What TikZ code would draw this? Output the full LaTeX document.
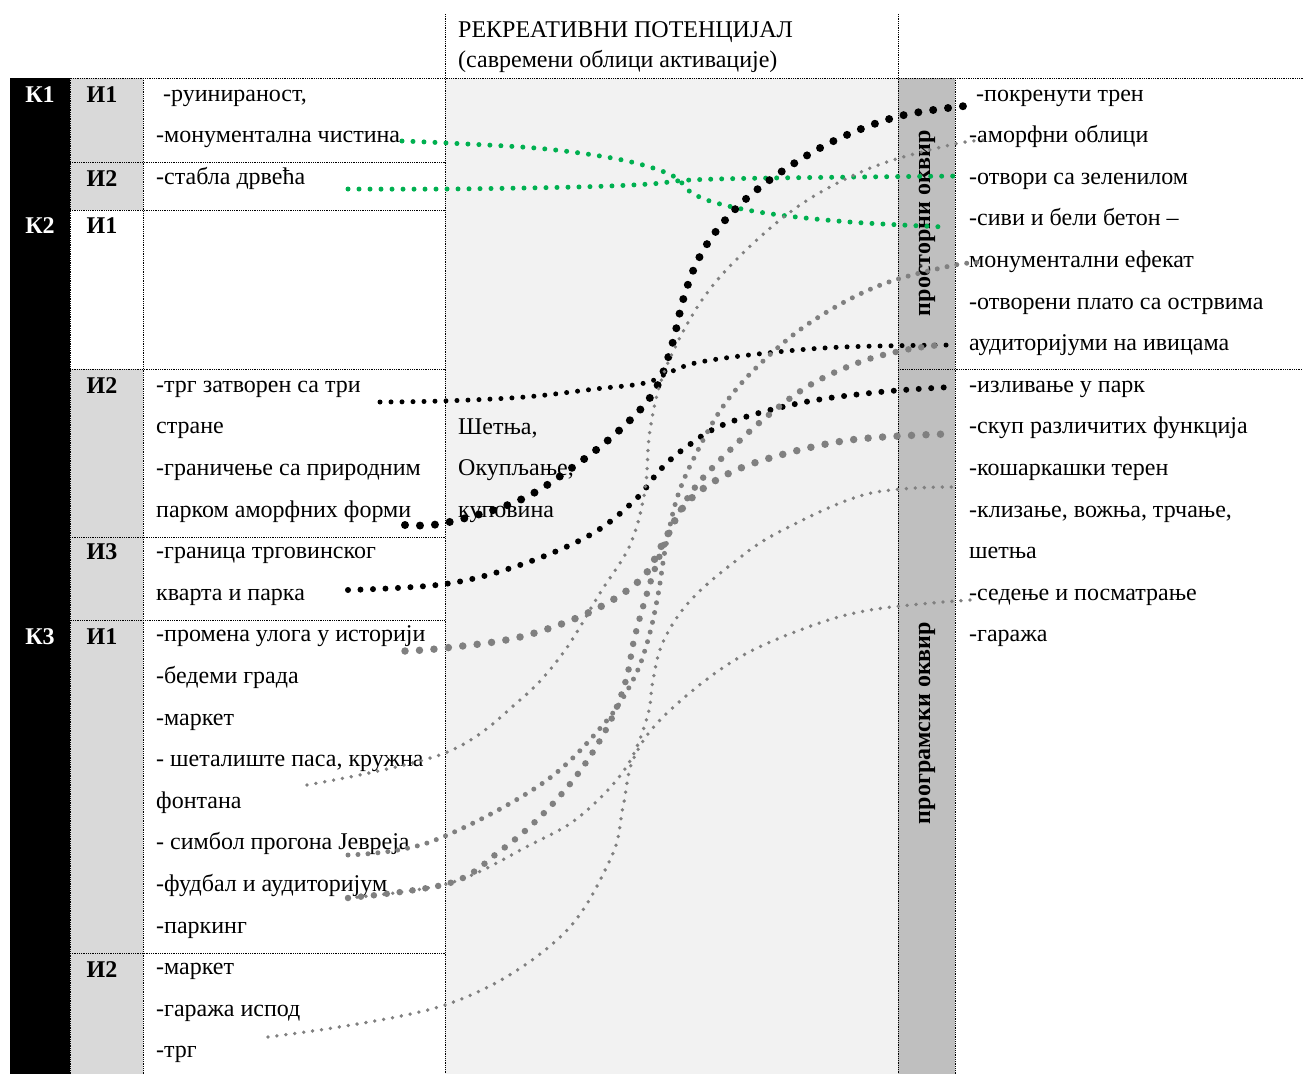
\documentclass[tikz,border=0pt]{standalone}
\usepackage{fontspec}
\setmainfont{Liberation Serif}
\usetikzlibrary{positioning}
\definecolor{kolsiva}{HTML}{D9D9D9}
\definecolor{sredsiva}{HTML}{F2F2F2}
\definecolor{trakasiva}{HTML}{BFBFBF}
\definecolor{tacsiva}{HTML}{808080}
\definecolor{taczel}{HTML}{00B050}
\begin{document}
\begin{tikzpicture}[x=1pt,y=-1pt,font=\fontsize{24}{28}\selectfont,
  cellline/.style={densely dotted,line width=0.8pt},
  txt/.style={anchor=base west,inner sep=0pt},
  lbl/.style={anchor=base,inner sep=0pt,font=\fontsize{24}{28}\selectfont\bfseries},
  frm/.style={rotate=90,inner sep=0pt,font=\fontsize{24}{28}\selectfont\bfseries},
  dotline/.style={line cap=round,dash pattern=on 0pt off #1},
  crnvel/.style={dotline=15pt,line width=8pt,black},
  crnsr/.style={dotline=12.5pt,line width=6pt,black},
  crnmal/.style={dotline=11pt,line width=5pt,black},
  zel/.style={dotline=11pt,line width=5pt,taczel},
  sivvel/.style={dotline=14.5pt,line width=7.5pt,tacsiva},
  sivsr/.style={dotline=13pt,line width=6.5pt,tacsiva},
  sivmal/.style={dotline=10pt,line width=5pt,tacsiva},
  sivtan/.style={dotline=9pt,line width=3.8pt,tacsiva},
  kriva/.style={smooth,tension=0.6}]
  \useasboundingbox (0,0) rectangle (1303,1074);
  % fills
  \fill[black] (10,78) rectangle (70,1074);
  \fill[kolsiva] (70,78) rectangle (143,210);
  \fill[kolsiva] (70,369) rectangle (143,1074);
  \fill[sredsiva] (445,78) rectangle (898,1074);
  \fill[trakasiva] (898,78) rectangle (955,1074);
  % cell lines
  \draw[cellline] (445,14) -- (445,1074);
  \draw[cellline] (898,14) -- (898,1074);
  \draw[cellline] (10,78) -- (1303,78);
  \foreach \x in {70,143,955} \draw[cellline] (\x,78) -- (\x,1074);
  \foreach \y in {162,210,369,537,953} \draw[cellline] (70,\y) -- (445,\y);
  \draw[cellline] (10,620) -- (445,620);
  \draw[cellline] (898,369) -- (1303,369);
  % header
  \node[txt] (hdr1) at (458,37) {РЕКРЕАТИВНИ ПОТЕНЦИЈАЛ};
  \node[txt] (hdr2) at (458,67) {(савремени облици активације)};
  % labels
  \foreach \n/\y in {1/102,2/233,3/644}
    \node[lbl,text=white] (K\n) at (40,\y) {К\n};
  \foreach \m/\t/\y in {a/1/102,b/2/186,c/1/233,d/2/393,e/3/559,f/1/644,g/2/977}
    \node[lbl] (I\m) at (102,\y) {И\t};
  \node[frm] (prostor) at (927,223) {просторни оквир};
  \node[frm] (program) at (927,723) {програмски оквир};
  % left texts
  \node[txt] (L0) at (163,101) {-руинираност,};
  \foreach \n/\t in {1/-монументална чистина,2/-стабла дрвећа,
      7/-трг затворен са три,8/стране,9/-граничење са природним,
      10/парком аморфних форми,11/-граница трговинског,12/кварта и парка,
      13/-промена улога у историји,14/-бедеми града,15/-маркет,
      16/{- шеталиште паса, кружна},17/фонтана,18/- симбол прогона Јевреја,
      19/-фудбал и аудиторијум,20/-паркинг,21/-маркет,22/-гаража испод,23/-трг}
    \node[txt] (L\n) at (156,101+41.6*\n) {\t};
  % middle texts
  \node[txt] (walk) at (458,434) {Шетња,};
  \node[txt] (meet) at (458,475) {Окупљање,};
  \node[txt] (shop) at (458,517) {куповина};
  % right texts
  \node[txt] (R0) at (976,101) {-покренути трен};
  \foreach \n/\t in {1/-аморфни облици,2/-отвори са зеленилом,
      3/-сиви и бели бетон –,4/монументални ефекат,
      5/-отворени плато са острвима,6/аудиторијуми на ивицама,
      7/-изливање у парк,8/-скуп различитих функција,9/-кошаркашки терен,
      10/{-клизање, вожња, трчање,},11/шетња,12/-седење и посматрање,13/-гаража}
    \node[txt] (R\n) at (969,101+41.6*\n) {\t};
  % curve ends
  \coordinate (monL) at (402,141);   \coordinate (betonR) at (945,227);
  \coordinate (drvL) at (348,189);   \coordinate (zelR) at (960,176);
  \coordinate (trgL) at (380,402);   \coordinate (audR) at (952,345);
  \coordinate (parkomL) at (405,525);\coordinate (trenR) at (965,106);
  \coordinate (kvartL) at (348,590); \coordinate (izlivR) at (952,387);
  \coordinate (ulogaL) at (405,651); \coordinate (skupR) at (946,434);
  \coordinate (setL) at (307,785);   \coordinate (amorR) at (985,140);
  \coordinate (simbL) at (348,855);  \coordinate (monR) at (985,262);
  \coordinate (fudL) at (348,898);   \coordinate (audsR) at (940,345);
  \coordinate (kosR) at (955,487);
  \coordinate (garL) at (268,1037);  \coordinate (sedR) at (970,600);
  % curves
  \draw[zel] plot[kriva] coordinates {(monL) (447,143) (535,148) (600,156)
    (643,165) (675,177) (692,193) (720,204) (772,214) (850,222) (betonR)};
  \draw[zel] plot[kriva] coordinates {(drvL) (447,189) (577,187) (650,184)
    (690,180) (773,178) (zelR)};
  \draw[crnmal] plot[kriva] coordinates {(trgL) (442,401) (525,397) (595,389)
    (645,383) (670,372) (700,362) (767,353) (843,347) (audR)};
  \draw[crnvel] plot[kriva] coordinates {(parkomL) (445,523) (520,500) (580,462)
    (625,425) (655,390) (672,345) (683,300) (697,262) (717,230) (747,198)
    (790,166) (840,138) (900,116) (trenR)};
  \draw[crnsr] plot[kriva] coordinates {(kvartL) (445,584) (520,565) (590,535)
    (635,500) (660,470) (685,448) (725,424) (800,403) (880,392) (izlivR)};
  \draw[sivvel] plot[kriva] coordinates {(ulogaL) (445,648) (520,637) (590,612)
    (640,580) (662,545) (685,505) (720,478) (770,458) (850,440) (skupR)};
  \draw[sivtan] plot[kriva] coordinates {(setL) (445,753) (520,700) (563,653)
    (600,593) (630,545) (645,490) (650,430) (665,370) (700,303) (743,253)
    (803,203) (873,167) (950,145) (amorR)};
  \draw[sivmal] plot[kriva] coordinates {(simbL) (430,842) (540,785) (603,725)
    (633,680) (648,640) (658,595) (666,545) (678,495) (697,452) (724,405)
    (760,364) (811,322) (878,286) (950,266) (monR)};
  \draw[sivsr] plot[kriva] coordinates {(fudL) (450,883) (500,851) (542,815)
    (580,771) (610,722) (626,680) (634,640) (645,600) (657,563) (673,525)
    (693,490) (725,455) (765,418) (810,385) (860,362) (905,350) (audsR)};
  \draw[sivtan] plot[kriva] coordinates {(fudL) (450,883) (530,845) (579,817)
    (625,769) (647,718) (653,680) (663,642) (689,602) (733,563) (779,532)
    (867,494) (kosR)};
  \draw[sivtan] plot[kriva] coordinates {(garL) (445,1005) (557,940) (610,860)
    (623,807) (633,760) (663,717) (730,663) (800,630) (870,610) (sedR)};
\end{tikzpicture}
\end{document}
